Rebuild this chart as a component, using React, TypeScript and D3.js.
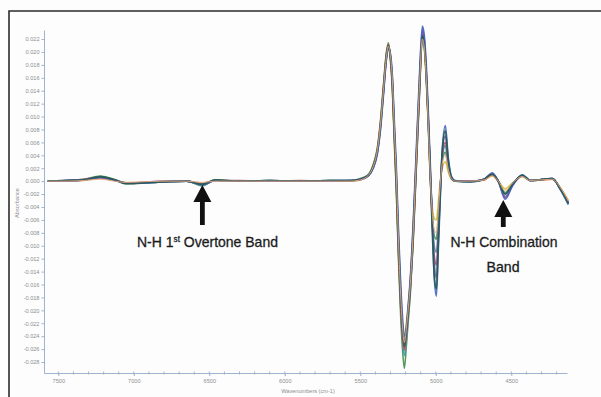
import { useEffect, useRef } from 'react';
import * as d3 from 'd3';

// ─── Data (absorbance in 1e-3 units) ─────────────────────────

const WAVENUMBERS = [
  7570, 7450, 7330, 7222, 7130, 7050, 6950, 6800, 6650, 6546,
  6460, 6300, 6100, 5900, 5700, 5560, 5500, 5447, 5414, 5387,
  5367, 5347, 5327, 5314, 5301, 5288, 5275, 5261, 5248, 5235,
  5222, 5208, 5195, 5182, 5169, 5149, 5129, 5109, 5089, 5076,
  5063, 5050, 5036, 5023, 5010, 4996, 4983, 4970, 4957, 4937,
  4917, 4897, 4871, 4771, 4680, 4626, 4586, 4540, 4493, 4427,
  4374, 4228, 4175, 4122,
];

const YELLOW = [
  0, 0, 0.1, 0.4, 0.1, -0.2, -0.2, 0, 0, -0.3, 0.1, 0, 0, 0, 0, 0, 0.2,
  1.0, 2.5, 5.0, 9.0, 14.5, 19.8, 21.0, 18.8, 14.2, 6.0, -2.0, -11.0, -18.5, -23.0, -24.5, -22.0, -19.0, -15.5, -7.0, 3.5, 14.5,
  22.0, 20.5, 15.5, 8.5, 0, -4.0, -5.8, -6.0, -3.2, 0, 2.0, 3.0, 1.4, 0.3, 0,
  0, 0.2, 0.8, 0, -1.2, -0.3, 0.7, 0.1, 0.3, -1.0, -3.0,
];
const GREEN = [
  0, 0.1, 0.3, 0.8, 0.3, -0.4, -0.3, -0.1, 0, -0.7, 0.2, 0, 0.1, 0, 0.1, 0.1, 0.4,
  1.0, 2.6, 5.2, 9.2, 14.8, 20.0, 21.4, 19.0, 14.6, 6.5, -1.8, -11.5, -19.5, -25.5, -29.0, -25.5, -21.5, -17.5, -9.0, 2.0, 13.0,
  22.0, 20.8, 16.0, 9.0, 0.3, -5.0, -8.5, -9.0, -5.0, -0.5, 3.0, 4.5, 2.0, 0.4, 0,
  0, 0.3, 1.0, 0, -1.8, -0.4, 0.8, 0.1, 0.4, -1.3, -3.6,
];
const CYAN = [
  0, 0.1, 0.2, 0.6, 0.2, -0.3, -0.3, -0.1, 0, -0.6, 0.1, 0, 0.1, 0, 0.1, 0.1, 0.3,
  0.9, 2.2, 4.6, 8.4, 13.8, 19.2, 20.9, 19.3, 15.2, 7.4, -0.5, -10.0, -18.0, -24.0, -27.0, -24.5, -20.8, -17.0, -8.2, 2.6, 13.6,
  22.5, 21.2, 16.8, 9.8, 1.0, -5.5, -10.0, -11.0, -6.5, -0.8, 3.5, 5.5, 2.4, 0.5, 0,
  -0.1, 0.3, 1.0, 0, -2.0, -0.5, 0.9, 0.1, 0.4, -1.2, -3.5,
];
const RED = [
  0, 0.1, 0.3, 0.6, 0.2, -0.3, -0.2, -0.1, 0, -0.5, 0.1, 0.1, 0, 0.1, 0, 0.1, 0.3,
  0.9, 2.4, 4.9, 8.8, 14.3, 19.6, 21.2, 19.2, 15.0, 7.0, -1.0, -10.5, -18.0, -23.5, -26.2, -23.8, -20.5, -16.8, -8.5, 2.3, 13.2,
  23.0, 21.5, 16.5, 9.5, 0.5, -6.5, -11.5, -13.0, -7.5, -1.2, 3.8, 6.0, 2.6, 0.5, 0,
  0, 0.2, 1.0, -0.1, -2.6, -0.7, 0.8, 0.1, 0.3, -1.1, -3.2,
];
const PURPLE = [
  0, 0, 0.2, 0.5, 0.1, -0.3, -0.2, 0, 0, -0.4, 0.1, 0, 0, 0, 0, 0.1, 0.2,
  0.8, 2.1, 4.4, 8.0, 13.5, 19.0, 20.8, 19.6, 16.0, 8.5, 1.0, -8.0, -15.5, -21.5, -25.0, -23.0, -19.5, -15.5, -6.8, 4.2, 15.2,
  23.5, 22.0, 17.0, 10.0, 1.5, -6.0, -12.5, -15.0, -8.5, -1.5, 4.2, 7.0, 3.0, 0.6, 0,
  0, 0.3, 1.1, 0, -2.4, -0.6, 0.9, 0.1, 0.4, -1.2, -3.3,
];
const BLUE = [
  0, 0.1, 0.2, 0.6, 0.2, -0.3, -0.3, -0.1, 0, -0.6, 0.1, 0, 0.1, 0, 0.1, 0.1, 0.3,
  0.8, 2.0, 4.2, 7.8, 13.2, 18.8, 20.6, 19.8, 16.5, 9.5, 2.0, -7.0, -14.5, -20.5, -24.0, -22.5, -19.0, -15.0, -6.0, 5.0, 16.0,
  24.0, 22.5, 18.0, 11.0, 2.5, -6.5, -15.0, -17.8, -10.5, -2.5, 5.0, 8.6, 3.6, 0.8, 0.1,
  -0.1, 0.3, 1.3, 0, -2.8, -0.8, 1.0, 0.1, 0.4, -1.3, -3.6,
];
const TEAL = [
  0, 0.1, 0.2, 0.7, 0.2, -0.4, -0.3, -0.1, 0, -0.5, 0.2, 0, 0.1, 0, 0.1, 0.1, 0.3,
  0.9, 2.3, 4.7, 8.5, 14, 19.4, 21, 19.4, 15.5, 7.8, 0, -9.3, -17, -22.5, -25.6, -23.3, -20, -16.3, -7.8, 3.1, 14,
  22.5, 21, 16.3, 9.3, 0.8, -7.8, -14.7, -16.7, -9.3, -1.6, 4.7, 7.8, 3.1, 0.6, 0,
  -0.1, 0.3, 1.1, 0, -2.0, -0.5, 0.9, 0.1, 0.4, -1.2, -3.4,
];
const ORANGE = [
  0, 0, 0.1, 0.3, 0, -0.2, -0.1, 0, 0, -0.2, 0, 0, 0, 0, 0, 0, 0.2,
  0.9, 2.3, 4.8, 8.6, 14.0, 19.3, 20.9, 19.5, 15.8, 8.2, 0.5, -8.8, -16.5, -22.0, -25.0, -22.8, -19.6, -16.0, -7.5, 3.4, 14.4,
  22.0, 20.6, 16.0, 9.0, 0.5, -5.0, -7.5, -8.0, -4.5, -0.3, 2.8, 4.0, 1.8, 0.4, 0,
  0, 0.2, 0.8, 0, -1.5, -0.3, 0.7, 0.1, 0.3, -1.0, -3.1,
];

const Y_TICKS = [
  0.022, 0.02, 0.018, 0.016, 0.014, 0.012, 0.01, 0.008, 0.006, 0.004, 0.002, 0,
  -0.002, -0.004, -0.006, -0.008, -0.01, -0.012, -0.014, -0.016, -0.018, -0.02,
  -0.022, -0.024, -0.026, -0.028,
];
const X_TICKS = [7500, 7000, 6500, 6000, 5500, 5000, 4500];

// draw order: first is bottom
const SERIES = [
  { color: '#d6c03a', values: YELLOW, width: 1.6 },
  { color: '#3f8f4c', values: GREEN, width: 1.6 },
  { color: '#3d9fb2', values: CYAN, width: 1.6 },
  { color: '#c9485c', values: RED, width: 1.6 },
  { color: '#7b5aa9', values: PURPLE, width: 1.6 },
  { color: '#4262c2', values: BLUE, width: 1.6 },
  { color: '#245b50', values: TEAL, width: 1.7 },
  { color: '#f0a983', values: ORANGE, width: 1.0 },
];

// ─── Layout ─────────────────────────────────────────────────

const W = 601;
const H = 397;
const X_RANGE: [number, number] = [44, 567];
const Y_RANGE: [number, number] = [373, 30];
const AXIS_COLOR = '#9fb2cf';
const LABEL_COLOR = '#8e8e8e';
const SANS = '"Liberation Sans", Arial, sans-serif';
const NOTE_FONT = '"Liberation Sans Narrow", "Liberation Sans", Arial, sans-serif';

export default function App() {
  const svgRef = useRef<SVGSVGElement>(null);

  useEffect(() => {
    if (!svgRef.current) return;
    const svg = d3.select(svgRef.current);
    svg.selectAll('*').remove();

    const x = d3.scaleLinear().domain([7595, 4131]).range(X_RANGE);
    const y = d3.scaleLinear().domain([-0.0297, 0.0234]).range(Y_RANGE);

    svg.append('rect').attr('width', W).attr('height', H).attr('fill', '#fdfdfe');

    // frame
    svg.append('path')
      .attr('d', `M9,${H + 2}V11H${W + 2}`)
      .attr('fill', 'none')
      .attr('stroke', '#2b2b2b')
      .attr('stroke-width', 1.6);

    // y axis
    svg.append('g')
      .attr('transform', `translate(${X_RANGE[0]},0)`)
      .call(d3.axisLeft(y).tickValues(Y_TICKS).tickSize(2.5).tickSizeOuter(0).tickPadding(2)
        .tickFormat((d) => (+d).toFixed(3)))
      .call((sel) => sel.selectAll('text').attr('fill', LABEL_COLOR).attr('font-size', '5.6px').attr('font-family', SANS))
      .call((sel) => sel.selectAll('line,path').attr('stroke', AXIS_COLOR));

    // x axis
    const xAxis = svg.append('g').attr('transform', `translate(0,${Y_RANGE[0]})`);
    xAxis.call(d3.axisBottom(x).tickValues(X_TICKS).tickSize(3).tickSizeOuter(0).tickPadding(3)
        .tickFormat((d) => String(d)))
      .call((sel) => sel.selectAll('text').attr('fill', LABEL_COLOR).attr('font-size', '5.6px').attr('font-family', SANS))
      .call((sel) => sel.selectAll('line,path').attr('stroke', AXIS_COLOR));
    xAxis.append('g').selectAll('line')
      .data(d3.range(4200, 7600, 100))
      .join('line')
      .attr('x1', (d) => x(d)).attr('x2', (d) => x(d))
      .attr('y1', -1.5).attr('y2', 1.5)
      .attr('stroke', AXIS_COLOR);

    // axis titles
    svg.append('text')
      .attr('x', 308).attr('y', 393)
      .attr('text-anchor', 'middle')
      .attr('font-size', '5.6px').attr('font-family', SANS).attr('fill', LABEL_COLOR)
      .text('Wavenumbers (cm-1)');
    svg.append('text')
      .attr('transform', 'translate(19,203) rotate(-90)')
      .attr('text-anchor', 'middle')
      .attr('font-size', '5.6px').attr('font-family', SANS).attr('fill', LABEL_COLOR)
      .text('Absorbance');

    // spectra
    const line = d3.line<number>()
      .x((_, i) => x(WAVENUMBERS[i]))
      .y((d) => y(d / 1000))
      .curve(d3.curveMonotoneX);

    SERIES.forEach((s) => {
      svg.append('path').datum(s.values)
        .attr('fill', 'none')
        .attr('stroke', s.color)
        .attr('stroke-width', s.width)
        .attr('stroke-opacity', 0.9)
        .attr('stroke-linejoin', 'round')
        .attr('d', line);
    });

    // annotations
    const arrow = (cx: number, tip: number, len: number) => {
      const head = 17;
      svg.append('path')
        .attr('d', `M${cx},${tip}L${cx + 9},${tip + head}H${cx + 2.4}V${tip + len}H${cx - 2.4}V${tip + head}H${cx - 9}Z`)
        .attr('fill', '#111');
    };
    arrow(x(6546), 185, 40);
    arrow(x(4553), 200, 27);

    const noteStyle = (sel: d3.Selection<SVGTextElement, unknown, null, undefined>) =>
      sel.attr('font-size', '14.5px').attr('font-family', NOTE_FONT)
        .attr('fill', '#1c1c1c').attr('stroke', '#1c1c1c').attr('stroke-width', 0.3)
        .attr('lengthAdjust', 'spacingAndGlyphs');

    const note = svg.append('text')
      .attr('x', 137).attr('y', 247)
      .attr('textLength', 141)
      .call(noteStyle);
    note.append('tspan').text('N-H 1');
    note.append('tspan').attr('font-size', '8.5px').attr('dy', -5).text('st');
    note.append('tspan').attr('dy', 5).text(' Overtone Band');

    svg.append('text')
      .attr('x', 504).attr('y', 247)
      .attr('text-anchor', 'middle')
      .attr('textLength', 107)
      .call(noteStyle)
      .text('N-H Combination');
    svg.append('text')
      .attr('x', 503).attr('y', 272)
      .attr('text-anchor', 'middle')
      .attr('textLength', 33)
      .call(noteStyle)
      .text('Band');
  }, []);

  return (
    <svg
      ref={svgRef}
      width={W}
      height={H}
      style={{ position: 'absolute', left: 0, top: 0, display: 'block' }}
    />
  );
}
